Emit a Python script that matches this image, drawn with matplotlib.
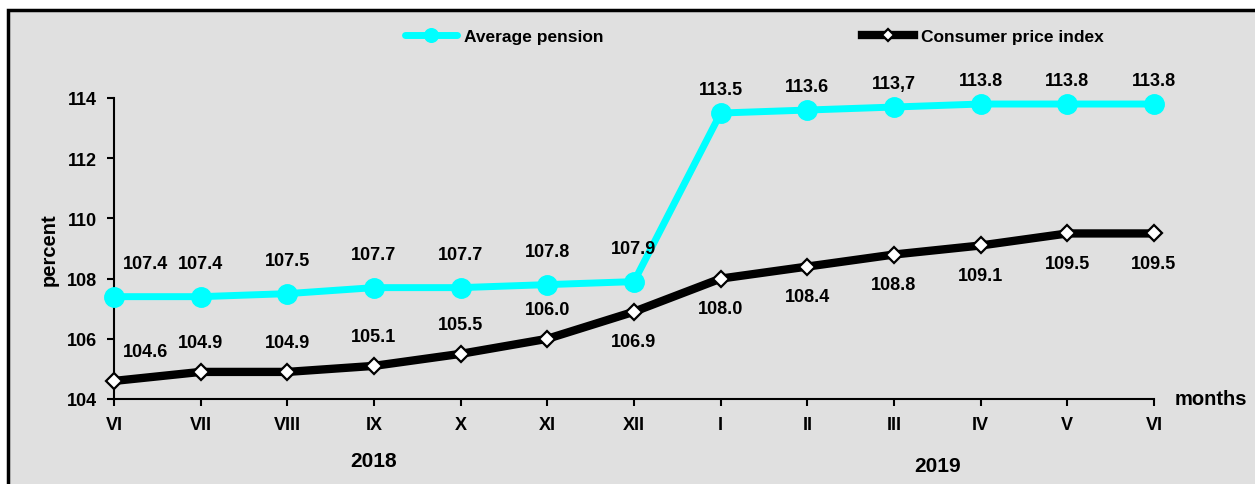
"""Average pension vs consumer price index, June 2018 - June 2019 (% of same month a year before)."""
import matplotlib
matplotlib.use("Agg")
import matplotlib.pyplot as plt
from matplotlib.patches import Rectangle

plt.rcParams.update({"font.family": ["Liberation Sans", "DejaVu Sans"],
                     "font.weight": "bold", "axes.labelweight": "bold",
                     "font.size": 13})

months = ["VI", "VII", "VIII", "IX", "X", "XI", "XII",
          "I", "II", "III", "IV", "V", "VI"]
years = [2018] * 7 + [2019] * 6
pension = [107.4, 107.4, 107.5, 107.7, 107.7, 107.8, 107.9,
           113.5, 113.6, 113.7, 113.8, 113.8, 113.8]
pension_lbl = ["107.4", "107.4", "107.5", "107.7", "107.7", "107.8", "107.9",
               "113.5", "113.6", "113,7", "113.8", "113.8", "113.8"]
cpi = [104.6, 104.9, 104.9, 105.1, 105.5, 106.0, 106.9,
       108.0, 108.4, 108.8, 109.1, 109.5, 109.5]
cpi_lbl = ["104.6", "104.9", "104.9", "105.1", "105.5", "106.0", "106.9",
           "108.0", "108.4", "108.8", "109.1", "109.5", "109.5"]

W, H = 1255, 485
fig = plt.figure(figsize=(W / 100, H / 100), dpi=100, facecolor="white")
# grey panel with black frame (cropped on right/bottom like the source)
fig.patches.append(Rectangle((8 / W, -0.05), 1.1, 1 - 11 / H + 0.05,
                             transform=fig.transFigure, facecolor="#e0e0e0",
                             edgecolor="black", linewidth=2.5, zorder=-5))

ax = fig.add_axes([114 / W, 85 / H, 1040 / W, 301 / H])
ax.set_zorder(2)
ax.set_facecolor("none")
x = list(range(len(months)))

ax.plot(x, pension, color="#00ffff", lw=5, marker="o", ms=14,
        mec="#00ffff", solid_capstyle="round", clip_on=False, zorder=3,
        label="Average pension")
ax.plot(x, cpi, color="black", lw=6, marker="D", ms=8.5, mfc="white",
        mec="black", mew=1.6, clip_on=False, zorder=4,
        label="Consumer price index")

for i, (v, t) in enumerate(zip(pension, pension_lbl)):
    dy = 33 if i < 7 else 24
    dx = 32 if i == 0 else 0
    ax.annotate(t, (i, v), xytext=(dx, dy), textcoords="offset pixels",
                ha="center", va="center", fontsize=13)
for i, (v, t) in enumerate(zip(cpi, cpi_lbl)):
    dy = 29 if i < 6 else -30
    dx = 32 if i == 0 else 0
    ax.annotate(t, (i, v), xytext=(dx, dy), textcoords="offset pixels",
                ha="center", va="center", fontsize=13)

ax.set_xlim(0, 12)
ax.set_ylim(104, 114)
ax.set_xticks(x)
ax.set_xticklabels(months)
ax.set_yticks([104, 106, 108, 110, 112, 114])
ax.tick_params(direction="out", length=5, width=1.5, pad=7, labelsize=13)
for s in ["top", "right"]:
    ax.spines[s].set_visible(False)
for s in ["left", "bottom"]:
    ax.spines[s].set_linewidth(1.5)

ax.set_ylabel("percent", fontsize=14.5, fontweight="bold", labelpad=6)
ax.text(1.02, 0.0, "months", transform=ax.transAxes, ha="left", va="center",
        fontsize=14.5)

# year captions under each group of months
for yr, ypos in [(2018, -0.205), (2019, -0.222)]:
    idx = [i for i, y in enumerate(years) if y == yr]
    ax.text(sum(idx) / len(idx), ypos, str(yr), transform=ax.get_xaxis_transform(),
            ha="center", va="center", fontsize=15)

leg = fig.legend(loc="center left", bbox_to_anchor=(405 / W, 1 - 37 / H), ncol=2,
                 frameon=False, fontsize=12.5, handlelength=3.0, handletextpad=0.4,
                 columnspacing=14.9, borderpad=0, borderaxespad=0, markerscale=0.7)

fig.savefig("out.png", dpi=100)
